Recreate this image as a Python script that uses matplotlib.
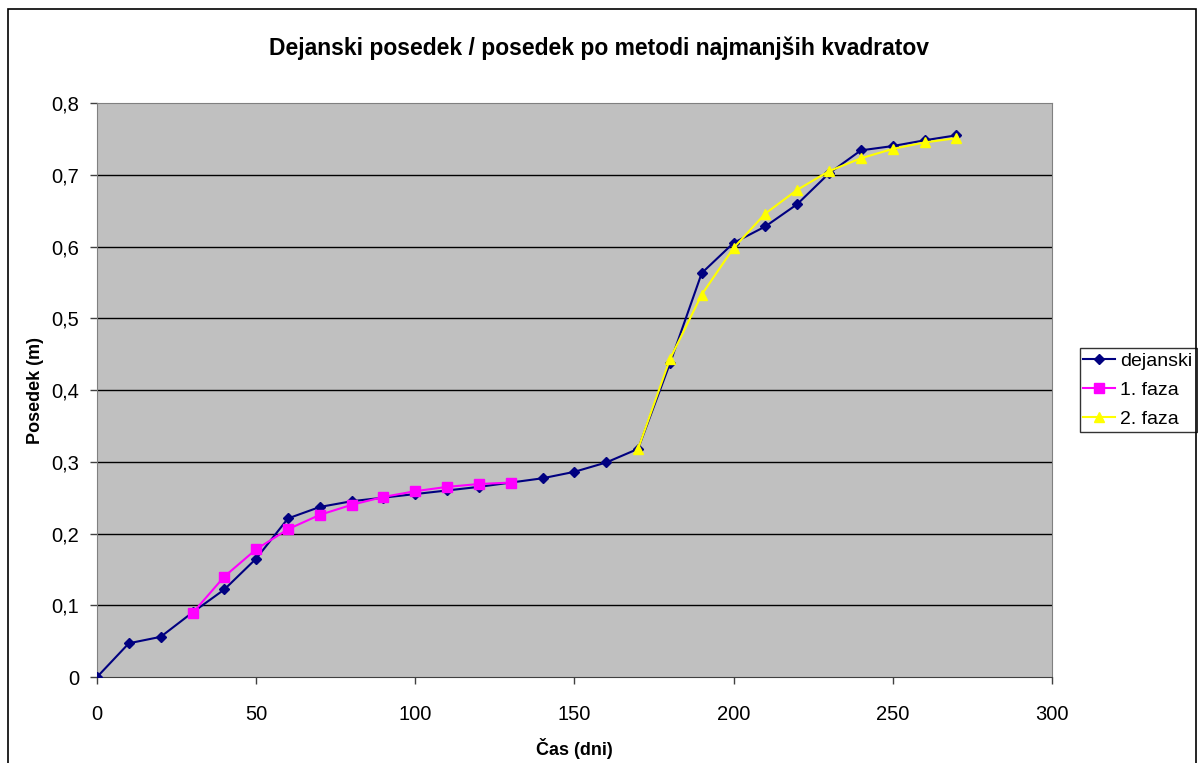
import matplotlib
matplotlib.use('Agg')
import matplotlib.pyplot as plt
from matplotlib.patches import Rectangle

plt.rcParams['font.family'] = ['Liberation Sans', 'DejaVu Sans']

# data
days = [0, 10, 20, 30, 40, 50, 60, 70, 80, 90, 100, 110, 120, 130,
        140, 150, 160, 170, 180, 190, 200, 210, 220, 230, 240, 250, 260, 270]
dejanski = [0.0, 0.047, 0.056, 0.090, 0.122, 0.165, 0.221, 0.237, 0.245,
            0.250, 0.255, 0.260, 0.265, 0.271, 0.277, 0.286, 0.299, 0.318,
            0.437, 0.563, 0.605, 0.628, 0.659, 0.702, 0.734, 0.740, 0.748,
            0.755]

days_f1 = [30, 40, 50, 60, 70, 80, 90, 100, 110, 120, 130]
faza1 = [0.089, 0.140, 0.178, 0.206, 0.226, 0.240, 0.251, 0.259, 0.265,
         0.269, 0.271]

days_f2 = [170, 180, 190, 200, 210, 220, 230, 240, 250, 260, 270]
faza2 = [0.318, 0.443, 0.533, 0.598, 0.646, 0.679, 0.705, 0.723, 0.736,
         0.745, 0.751]

yticks = [0, 0.1, 0.2, 0.3, 0.4, 0.5, 0.6, 0.7, 0.8]
ytick_labels = ['0', '0,1', '0,2', '0,3', '0,4', '0,5', '0,6', '0,7', '0,8']
xticks = [0, 50, 100, 150, 200, 250, 300]

fig = plt.figure(figsize=(11.98, 7.63), dpi=100)
ax = fig.add_axes([0.081, 0.1127, 0.797, 0.7523])
ax.set_facecolor('#c0c0c0')

# outer frame around the whole chart
fig.patches.append(Rectangle((8 / 1198, -0.01), 1188 / 1198, 1.01 - 9 / 763,
                             transform=fig.transFigure, fill=False,
                             edgecolor='black', linewidth=1.2))

for y in yticks[1:-1]:
    ax.axhline(y, color='black', linewidth=1, zorder=1)

ax.plot(days, dejanski, color='#000080', marker='D', markersize=5,
        linewidth=1.5, label='dejanski', zorder=3)
ax.plot(days_f1, faza1, color='#ff00ff', marker='s', markersize=7,
        linewidth=1.5, label='1. faza', zorder=4)
ax.plot(days_f2, faza2, color='#ffff00', marker='^', markersize=7,
        linewidth=1.5, label='2. faza', zorder=4)

ax.set_xlim(0, 300)
ax.set_ylim(0, 0.8)
ax.set_xticks(xticks)
ax.set_yticks(yticks)
ax.set_yticklabels(ytick_labels)
ax.tick_params(axis='both', labelsize=14.5, direction='out', length=5, width=1,
               color='#404040')
ax.tick_params(axis='x', pad=15)
ax.tick_params(axis='y', pad=8)

for side in ['top', 'right', 'left']:
    ax.spines[side].set_color('#808080')
ax.spines['bottom'].set_color('#404040')

ax.set_xlabel('Čas (dni)', fontsize=13, fontweight='bold', labelpad=10)
ax.set_ylabel('Posedek (m)', fontsize=13, fontweight='bold', labelpad=5)
fig.suptitle('Dejanski posedek / posedek po metodi najmanjših kvadratov',
             fontsize=16.5, fontweight='bold', y=0.952)

leg = ax.legend(loc='center left', bbox_to_anchor=(1.029, 0.5), fontsize=14,
                frameon=True, fancybox=False, borderpad=0.2, labelspacing=0.58,
                handlelength=1.6, handletextpad=0.3, borderaxespad=0)
leg.get_frame().set_edgecolor('black')
leg.get_frame().set_linewidth(1)

fig.savefig('out.png', dpi=100)
